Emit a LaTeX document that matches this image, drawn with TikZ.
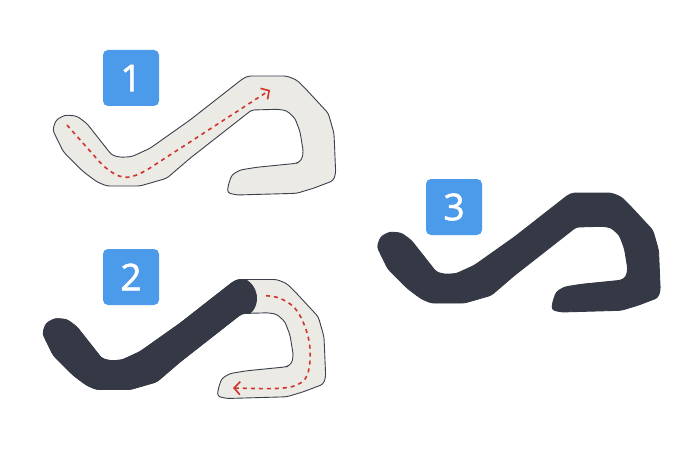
\documentclass[tikz,border=0pt]{standalone}
\usepackage{fontspec}
\setmainfont{Open Sans}
\newfontfamily\badgefont[FakeBold=1.6]{Open Sans}
\usetikzlibrary{arrows.meta}

\definecolor{badgeblue}{RGB}{76,154,234}
\definecolor{trackdark}{RGB}{53,57,70}
\definecolor{trackfill}{RGB}{235,234,229}
\definecolor{trackline}{RGB}{60,63,76}
\definecolor{flowred}{RGB}{208,52,45}

% outline of the track, drawn for step 1 and shifted for steps 2 and 3
\newcommand{\trackoutline}{(52.7,130) -- (56,120) -- (65,115) -- (76.7,116) -- (86.7,123.3)
  -- (111.7,155) -- (120,157.3) -- (131.7,156.7) -- (150,148.3) -- (190,120) -- (243.3,78.3)
  -- (248.3,76) -- (286.7,76) -- (296.7,80) -- (306.7,90) -- (328.3,113.3) -- (334,133.3)
  -- (335.7,173.3) -- (333.3,180.7) -- (313.3,188.3) -- (296.7,193.3) -- (236.7,195)
  -- (227.3,192.7) -- (228.3,185) -- (231.7,175) -- (240,170) -- (256.7,167.3) -- (296.7,163.3)
  -- (301.7,160) -- (303.3,151.7) -- (300,131.7) -- (295,118.3) -- (286.7,110.7) -- (278.3,109.3)
  -- (251.7,110) -- (190,158.3) -- (166.7,178.3) -- (140,186) -- (106.7,186) -- (96.7,181.7)
  -- (83.3,171.7) -- (63.3,151.7) -- cycle}

\begin{document}
\begin{tikzpicture}[x=1pt, y=-1pt,
    badge/.style={fill=badgeblue, rounded corners=5pt, minimum size=56pt, inner sep=0pt, text=white, font=\badgefont\fontsize{37}{37}\selectfont},
    lighttrack/.style={fill=trackfill, draw=trackline, line width=0.9pt, rounded corners=3pt},
    darktrack/.style={fill=trackdark, draw=trackdark, line width=0.9pt, rounded corners=3pt},
    flow/.style={draw=flowred, line width=1.6pt, dash pattern=on 4pt off 4pt, -{Straight Barb[length=6pt,width=13pt]}}
]
\useasboundingbox (0,0) rectangle (700,465);

% step 1
\path[lighttrack] \trackoutline;
\draw[flow] plot[smooth, tension=0.6] coordinates {(67,125) (90,151) (106,168) (123,177) (141,173) (173,153) (270,90)};
\node[badge] (num1) at (131,78) {1};

% step 2
\path[lighttrack, shift={(-10,203.5)}] \trackoutline;
\begin{scope}
  \clip (0,240) -- (236,240) -- (236,276) .. controls (262,280) and (262,310) .. (246,316) -- (205,362) -- (150,420) -- (0,440) -- cycle;
  \path[darktrack, shift={(-10,203.5)}] \trackoutline;
\end{scope}
\draw[flow] plot[smooth, tension=0.6] coordinates {(266,295.7) (280,298.3) (295,308.3) (305,326.7) (310,348.3) (308.3,371.7) (300,383.3) (280,388.3) (233,388)};
\node[badge] (num2) at (131,277) {2};

% step 3
\path[darktrack, shift={(324.5,117)}] \trackoutline;
\node[badge] (num3) at (454,207) {3};
\end{tikzpicture}
\end{document}
